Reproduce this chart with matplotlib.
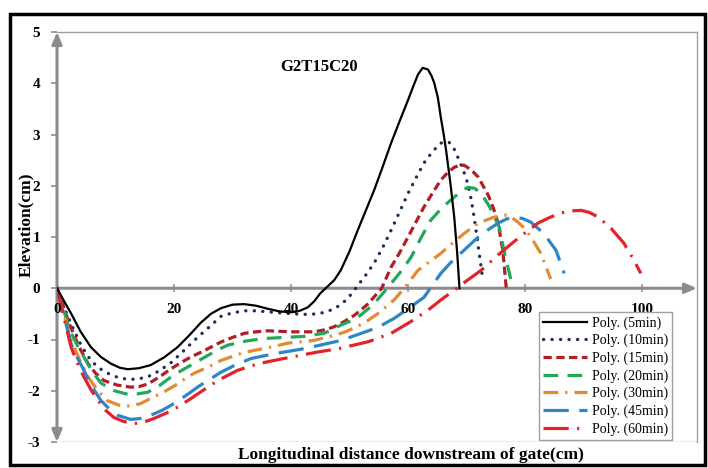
import matplotlib
matplotlib.use('Agg')
import matplotlib.pyplot as plt
from matplotlib.patches import Rectangle

plt.rcParams['font.family'] = ['Liberation Serif', 'DejaVu Serif']

# values
x_5 = [0, 1.2, 2.4, 4, 5.8, 7.5, 9.2, 10.7, 12.1, 14, 16, 18.3, 20.6, 22.6, 24.6, 26.3, 28, 30, 32, 34,
       36, 38, 40, 41.5, 42.9, 44, 45, 46.2, 47.4, 48.5, 50, 51.4, 52.8, 54.2, 55.7, 57.1, 58.6, 60,
       60.9, 61.7, 62.5, 63.4, 64, 64.5, 65.1, 65.6, 66.1, 66.5, 67.3, 67.9, 68.4, 68.8]
y_5 = [0, -0.25, -0.49, -0.84, -1.15, -1.34, -1.47, -1.55, -1.58, -1.56, -1.5, -1.35, -1.15, -0.92, -0.67,
       -0.5, -0.39, -0.32, -0.31, -0.34, -0.4, -0.45, -0.47, -0.44, -0.37, -0.25, -0.1, 0.03, 0.16,
       0.35, 0.72, 1.13, 1.52, 1.91, 2.38, 2.83, 3.27, 3.67, 3.94, 4.17, 4.3, 4.27, 4.15, 4.0, 3.72,
       3.34, 3.0, 2.7, 2.0, 1.39, 0.7, 0]

x_10 = [0, 1.4, 2.9, 4.3, 5.8, 7.2, 8.7, 10.4, 12.1, 13.8, 15.5, 17.5, 19.5, 21.2, 22.9, 24.4, 25.8, 28,
        30, 32, 34, 36, 38.2, 40.5, 42.5, 44.6, 46, 47.4, 48.6, 49.7, 51.4, 52.8, 54.2, 55.7, 57.1,
        58.6, 60, 61.4, 62.7, 64.2, 65.6, 66.3, 67, 67.8, 68.5, 69.4, 70.2, 70.8, 71.3, 71.7, 72.1, 72.8]
y_10 = [0, -0.43, -0.82, -1.15, -1.41, -1.56, -1.66, -1.74, -1.78, -1.77, -1.73, -1.61, -1.45, -1.27,
        -1.08, -0.92, -0.78, -0.55, -0.48, -0.44, -0.44, -0.46, -0.48, -0.5, -0.51, -0.5, -0.46, -0.4,
        -0.31, -0.2, 0.05, 0.26, 0.49, 0.8, 1.13, 1.5, 1.85, 2.16, 2.44, 2.67, 2.83, 2.86, 2.85, 2.74,
        2.56, 2.32, 2.05, 1.73, 1.39, 1.07, 0.74, 0.16]

x_15 = [0, 2.2, 3.8, 5.3, 6.6, 8, 10.3, 12.6, 14, 15.5, 17.5, 19.5, 21.2, 22.9, 24.4, 25.8, 28, 30, 32,
        34, 36, 38, 40, 44, 45.8, 47.4, 49.1, 50.8, 52, 53.2, 55.5, 57.1, 58.6, 60, 61.4, 62.7,
        64.2, 65.6, 66.8, 67.9, 68.8, 69.6, 70.8, 72, 73.7, 74.6, 75.4, 76.2, 76.8]
y_15 = [0, -0.72, -1.15, -1.47, -1.66, -1.8, -1.89, -1.93, -1.92, -1.87, -1.73, -1.57, -1.45, -1.34,
        -1.26, -1.18, -1.05, -0.96, -0.88, -0.85, -0.83, -0.84, -0.85, -0.85, -0.81, -0.75, -0.65,
        -0.53, -0.42, -0.3, 0.0, 0.41, 0.7, 1.0, 1.3, 1.58, 1.86, 2.11, 2.26, 2.36, 2.4, 2.4, 2.31,
        2.17, 1.82, 1.56, 1.27, 0.74, 0.0]

x_20 = [0, 2.2, 3.4, 4.6, 6, 7.5, 9.8, 12.1, 13.8, 15.5, 17.5, 19.5, 21.2, 22.9, 24.4, 25.8, 27.5, 29.2,
        32.3, 35.4, 38.8, 42.2, 45.6, 47, 48.5, 50, 51.4, 52.8, 54.2, 56.6, 58.6, 60.5, 62.2, 63.9,
        65.9, 67.9, 69, 70.2, 71.4, 72.5, 73.9, 75.6, 76.4, 77, 77.6, 77.9]
y_20 = [0, -0.82, -1.1, -1.34, -1.62, -1.85, -2.0, -2.07, -2.06, -2.03, -1.9, -1.73, -1.61, -1.5, -1.4,
        -1.31, -1.2, -1.11, -1.03, -0.98, -0.96, -0.94, -0.88, -0.81, -0.72, -0.65, -0.57, -0.44,
        -0.3, 0.02, 0.3, 0.6, 0.98, 1.33, 1.58, 1.78, 1.88, 1.97, 1.95, 1.85, 1.6, 1.19, 0.74, 0.45,
        0.16, 0.0]

x_30 = [0, 2.2, 3.8, 5.3, 7, 8.7, 10.6, 12.6, 14.3, 16, 18, 20, 21.7, 23.4, 25.8, 28, 30, 32, 35.7, 39.5,
        43.8, 47.4, 49.3, 51.1, 53, 54.9, 57.6, 59.5, 61.7, 63.7, 65.6, 67.6, 69.6, 72, 74.5, 75.9,
        77.1, 78.8, 80, 81, 82.7, 83.6, 84.4]
y_30 = [0, -0.95, -1.38, -1.73, -2.0, -2.2, -2.28, -2.3, -2.25, -2.15, -2.04, -1.91, -1.78, -1.66, -1.54,
        -1.41, -1.33, -1.25, -1.17, -1.07, -1.02, -0.92, -0.85, -0.76, -0.64, -0.49, -0.23, 0.02, 0.35,
        0.52, 0.68, 0.88, 1.07, 1.27, 1.38, 1.42, 1.43, 1.29, 1.16, 1.0, 0.68, 0.41, 0.18]

x_45 = [0, 2.4, 3.5, 4.6, 6, 7.5, 9, 10.4, 12.6, 14.3, 16, 18, 20, 22.2, 24.4, 26.2, 28, 30.6, 33.2, 37.5,
        41.7, 45, 48.5, 51.5, 54.9, 57.6, 60, 62.7, 64.2, 65.6, 67.3, 69, 72, 73.8, 75.4, 76.8, 78.1,
        79.6, 81, 83.2, 85.3, 86.7]
y_45 = [0, -1.08, -1.36, -1.6, -1.92, -2.19, -2.36, -2.48, -2.56, -2.54, -2.48, -2.38, -2.25, -2.08,
        -1.9, -1.77, -1.64, -1.49, -1.37, -1.27, -1.19, -1.11, -1.02, -0.9, -0.76, -0.59, -0.4, -0.18,
        0.06, 0.29, 0.5, 0.68, 1.0, 1.15, 1.27, 1.35, 1.39, 1.36, 1.29, 1.07, 0.74, 0.29]

x_60 = [0, 2.4, 3.5, 4.6, 5.8, 7, 8.3, 9.7, 11.4, 13.2, 14.9, 16.6, 18.6, 20.6, 22.8, 25, 27.5, 30.9, 34.5,
        38.8, 44.3, 48.5, 53.3, 57.1, 60.5, 63.5, 65.6, 68, 70.2, 72.5, 75.9, 79.3, 82.2, 84.2, 86.2,
        88, 89.6, 91, 92.5, 94.7, 96.9, 98.6, 99.8]
y_60 = [0, -1.15, -1.46, -1.73, -1.98, -2.19, -2.38, -2.52, -2.6, -2.64, -2.61, -2.54, -2.44, -2.32,
        -2.16, -1.99, -1.8, -1.6, -1.47, -1.37, -1.25, -1.17, -1.04, -0.88, -0.65, -0.42, -0.23, -0.03,
        0.16, 0.35, 0.7, 1.02, 1.27, 1.38, 1.47, 1.51, 1.52, 1.48, 1.39, 1.17, 0.88, 0.55, 0.29]

labels = ['Poly. (5min)', 'Poly. (10min)', 'Poly. (15min)', 'Poly. (20min)',
          'Poly. (30min)', 'Poly. (45min)', 'Poly. (60min)']
x_ticks = [0, 20, 40, 60, 80, 100]
y_ticks = [-3, -2, -1, 0, 1, 2, 3, 4, 5]

W, H = 708, 468
fig = plt.figure(figsize=(W / 100, H / 100), dpi=100)
ax = fig.add_axes([57 / W, 1 - 442 / H, (697 - 57) / W, (442 - 32) / H])
ax.set_xlim(0, 109.4)
ax.set_ylim(-3, 5)

# curves
ax.plot(x_5, y_5, color='black', lw=1.6, label=labels[0], zorder=4)
ax.plot(x_10, y_10, color='#1c2d5e', lw=2.4, dashes=(0.05, 2.5),
        dash_capstyle='round', label=labels[1], zorder=3)
ax.plot(x_15, y_15, color='#b11f24', lw=2.3, dashes=(2.6, 1.4), label=labels[2], zorder=3)
ax.plot(x_20, y_20, color='#21a85a', lw=2.3, dashes=(4.6, 2.9), label=labels[3], zorder=3)
ax.plot(x_30, y_30, color='#e38a33', lw=2.3, dashes=(4.6, 2.2, 0.7, 2.2), label=labels[4], zorder=3)
ax.plot(x_45, y_45, color='#2d86c6', lw=2.3, dashes=(7.9, 3.3), label=labels[5], zorder=3)
ax.plot(x_60, y_60, color='#e2232a', lw=2.3, dashes=(7.9, 2.6, 0.7, 2.6), label=labels[6], zorder=3)

# axes frame
axis_grey = '#8c8c8c'
for s in ['top', 'right']:
    ax.spines[s].set_color('#a0a0a0')
    ax.spines[s].set_linewidth(1.0)
ax.spines['left'].set_visible(False)
ax.spines['bottom'].set_visible(False)
ax.axhline(-3, color='#a0a0a0', lw=1.0, zorder=1)

ax.annotate('', xy=(109.4, 0), xytext=(0, 0),
            arrowprops=dict(arrowstyle='-|>,head_length=0.7,head_width=0.3',
                            color=axis_grey, lw=2.2, shrinkA=0, shrinkB=0), zorder=2)
ax.annotate('', xy=(0, 5), xytext=(0, -3),
            arrowprops=dict(arrowstyle='<|-|>,head_length=0.7,head_width=0.3',
                            color=axis_grey, lw=2.2, shrinkA=0, shrinkB=0), zorder=2)

ax.set_yticks(y_ticks)
ax.set_yticklabels([str(v) for v in y_ticks], fontweight='bold', fontsize=11)
ax.tick_params(axis='y', length=4, width=1.2, color=axis_grey, pad=8)
ax.set_xticks([])
for v in x_ticks:
    ax.plot([v, v], [-0.06, 0.06], color=axis_grey, lw=1.2, zorder=2)
    ax.text(v, -0.42, str(v), ha='center', va='center', fontsize=11, fontweight='bold')

ax.text(0.41, 0.915, 'G2T15C20', transform=ax.transAxes, ha='center', va='center',
        fontsize=12, fontweight='bold')

fig.text(411 / W, 1 - 455 / H, 'Longitudinal distance downstream of gate(cm)',
         ha='center', va='center', fontsize=12.5, fontweight='bold')
fig.text(26 / W, 1 - 225 / H, 'Elevation(cm)', rotation=90,
         ha='center', va='center', fontsize=12.5, fontweight='bold')

leg = ax.legend(loc='upper right', bbox_to_anchor=(672 / W, 1 - 312 / H),
                bbox_transform=fig.transFigure, borderaxespad=0, fontsize=10,
                handlelength=3.2, handletextpad=0.3, labelspacing=0.3,
                borderpad=0.3, fancybox=False, framealpha=1)
leg.get_frame().set_edgecolor('#a0a0a0')
leg.get_frame().set_linewidth(1.0)

fig.patches.append(Rectangle((10 / W, 3 / H), 695 / W, 1 - 17 / H, transform=fig.transFigure,
                             fill=False, edgecolor='black', lw=2.5))

fig.savefig('out.png', dpi=100)
